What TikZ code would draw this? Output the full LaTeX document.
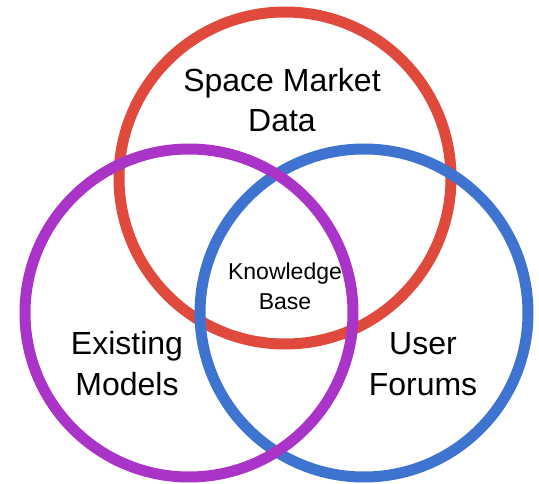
\documentclass[tikz,border=0pt]{standalone}
\usepackage{fontspec}
\setmainfont{Liberation Sans}
\definecolor{ringred}{RGB}{224,74,60}
\definecolor{ringblue}{RGB}{62,116,208}
\definecolor{ringpurple}{RGB}{170,52,200}
\begin{document}
\begin{tikzpicture}[x=1pt,y=-1pt,
  ring/.style={line width=11pt},
  biglabel/.style={font=\fontsize{32}{40}\selectfont, align=center, inner sep=0pt, anchor=base},
  smalllabel/.style={font=\fontsize{23}{30}\selectfont, align=center, inner sep=0pt, anchor=base}]
\useasboundingbox (0,0) rectangle (539,484);
% three overlapping sets: red below, blue next, purple on top
\draw[ring, ringred] (285,178) circle[radius=166pt];
\draw[ring, ringblue] (364,313) circle[radius=164pt];
\draw[ring, ringpurple] (189,313) circle[radius=164pt];
% set labels (anchored at the baseline of the last line)
\node[biglabel] (market) at (282,132) {Space Market\\Data};
\node[biglabel] (models) at (127,395) {Existing\\Models};
\node[biglabel] (forums) at (423,395) {User\\Forums};
\node[smalllabel] (kb) at (285,309) {Knowledge\\Base};
\end{tikzpicture}
\end{document}
